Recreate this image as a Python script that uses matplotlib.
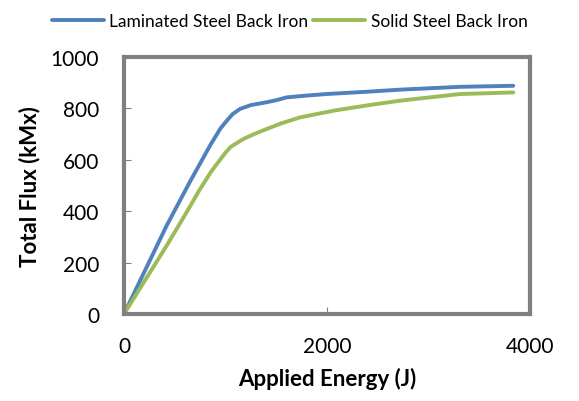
import matplotlib
matplotlib.use("Agg")
import matplotlib.pyplot as plt

lam_x = [0, 420, 650, 847, 950, 1012, 1070, 1143, 1250, 1406, 1500, 1603, 1800, 1997, 2400, 2719, 3310, 3835]
lam_y = [0, 344, 515, 655, 722, 752, 778, 798, 813, 824, 832, 843, 850, 856, 865, 873, 884, 888]
sol_x = [0, 420, 600, 749, 860, 946, 1000, 1050, 1175, 1300, 1406, 1550, 1734, 2062, 2400, 2719, 3310, 3835]
sol_y = [0, 266, 385, 486, 555, 600, 628, 650, 681, 703, 720, 742, 765, 791, 812, 830, 856, 862]
x_ticks = [0, 2000, 4000]
y_ticks = [0, 200, 400, 600, 800, 1000]

plt.rcParams['font.family'] = ['Lato', 'DejaVu Sans']
fig = plt.figure(figsize=(5.79, 4.02), dpi=100)
ax = fig.add_axes([0.2142, 0.2164, 0.7012, 0.6393])
ax.plot(lam_x, lam_y, color='#4F81BD', lw=2.8, label='Laminated Steel Back Iron', solid_capstyle='round')
ax.plot(sol_x, sol_y, color='#9BBB59', lw=2.8, label='Solid Steel Back Iron', solid_capstyle='round')
ax.set_xlim(0, 4000)
ax.set_ylim(0, 1000)
ax.set_xticks(x_ticks)
ax.set_yticks(y_ticks)
ax.tick_params(direction='in', length=5, color='#808080', labelsize=15)
ax.tick_params(axis='y', pad=18)
ax.tick_params(axis='x', pad=16)
for s in ax.spines.values():
    s.set_color('#808080')
    s.set_linewidth(3)
ax.set_xlabel('Applied Energy (J)', fontsize=16, fontweight='bold', labelpad=8)
ax.set_ylabel('Total Flux (kMx)', fontsize=16, fontweight='bold', labelpad=7)
fig.legend(loc='upper center', bbox_to_anchor=(0.5, 1.005), ncol=2, frameon=False,
           fontsize=12.5, handlelength=3.0, columnspacing=0.3, handletextpad=0.3)
fig.savefig('out.png', dpi=100)
